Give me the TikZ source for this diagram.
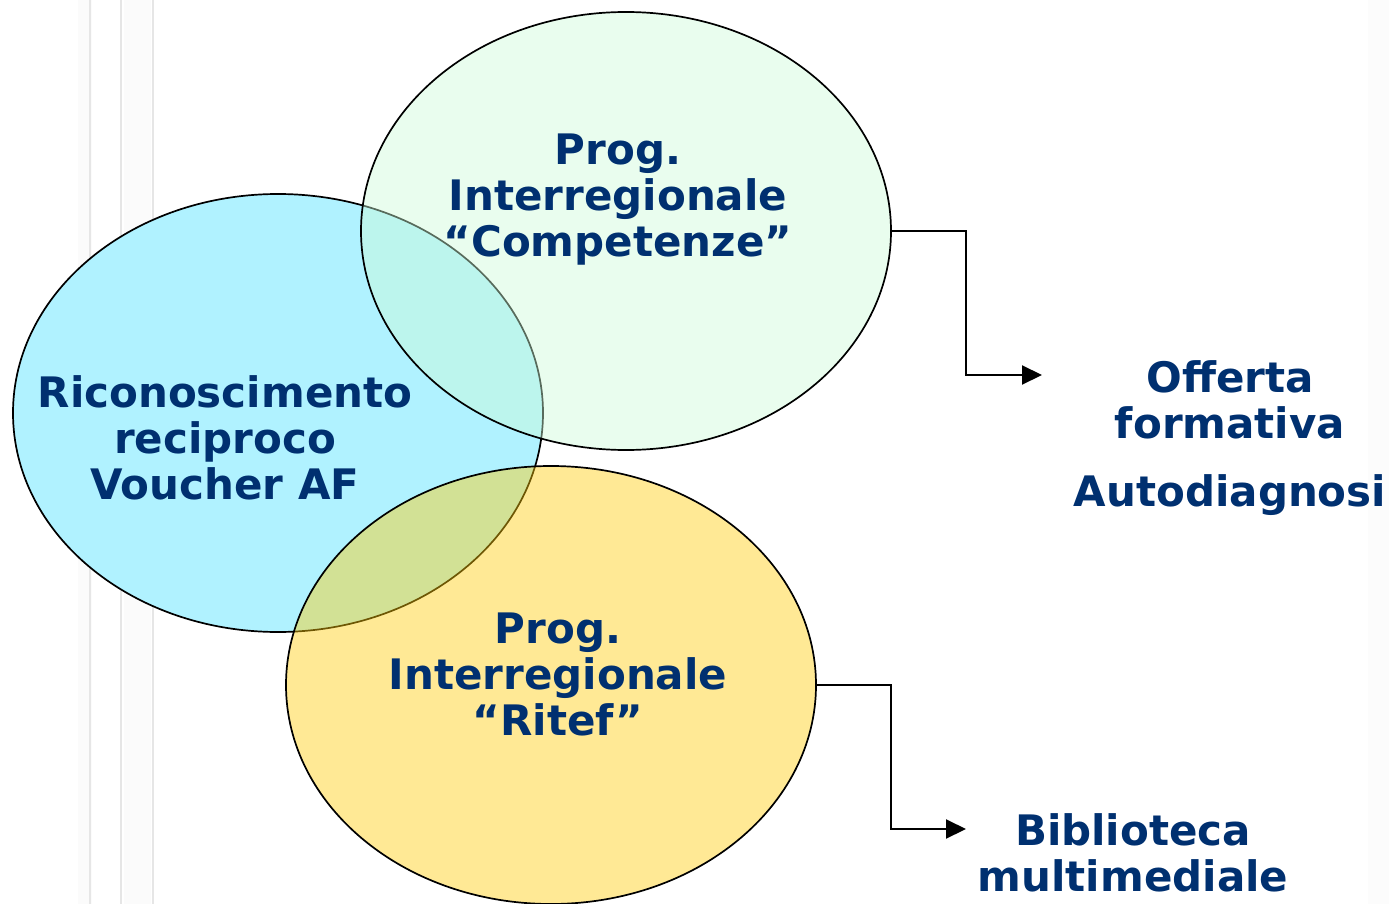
\documentclass[tikz,border=0pt]{standalone}
\usepackage{fontspec}
\setmainfont{DejaVu Sans}
\usetikzlibrary{shapes.geometric,arrows.meta}
\definecolor{txtblue}{RGB}{0,48,112}
\definecolor{blueF}{RGB}{176,242,255}
\definecolor{greenF}{RGB}{204,250,215}
\definecolor{yellowF}{RGB}{255,203,10}
\definecolor{stripe}{RGB}{230,230,230}
\tikzset{
  ell/.style={ellipse, draw=black, line width=1.7pt, inner sep=0pt, minimum width=530pt, minimum height=438pt},
  lbl/.style={text=txtblue, align=center, font=\fontsize{42}{46}\selectfont\bfseries, inner sep=0pt},
  conn/.style={draw=black, line width=2pt, -{Triangle[length=20pt,width=19pt]}},
}
\begin{document}
\begin{tikzpicture}[x=1pt,y=-1pt]
\useasboundingbox (0,0) rectangle (1389,904);
% faint background stripes
\fill[black!1.5] (78,0) rectangle (92,904);
\fill[black!1.5] (124,0) rectangle (151,904);
\fill[black!1] (1368,0) rectangle (1389,904);
\draw[stripe, line width=2pt] (90,0) -- (90,904);
\draw[stripe, line width=2pt] (121,0) -- (121,904);
\draw[stripe, line width=2pt] (153,0) -- (153,904);
% ellipses
\node[ell, fill=blueF] (blue) at (278,413) {};
\node[ell, fill=greenF, fill opacity=0.43] (green) at (626,231) {};
\node[ell, fill=yellowF, fill opacity=0.43] (yellow) at (551,685) {};
% labels
\node[lbl] (tgreen) at (618,200) {Prog.\\Interregionale\\“Competenze”};
\node[lbl] (tblue) at (225,438) {Riconoscimento\\reciproco\\Voucher AF};
\node[lbl] (tyellow) at (558,674) {Prog.\\Interregionale\\“Ritef”};
\node[lbl] (toff) at (1230,400) {Offerta\\formativa};
\node[lbl] (tauto) at (1230,495) {Autodiagnosi};
\node[lbl] (tbib) at (1133,853) {Biblioteca\\multimediale};
% connectors
\coordinate (e1) at (1042,375);
\coordinate (e2) at (966,829);
\draw[conn] (green.east) -- (966,231) |- (e1);
\draw[conn] (yellow.east) -- (891,685) |- (e2);
\end{tikzpicture}
\end{document}
